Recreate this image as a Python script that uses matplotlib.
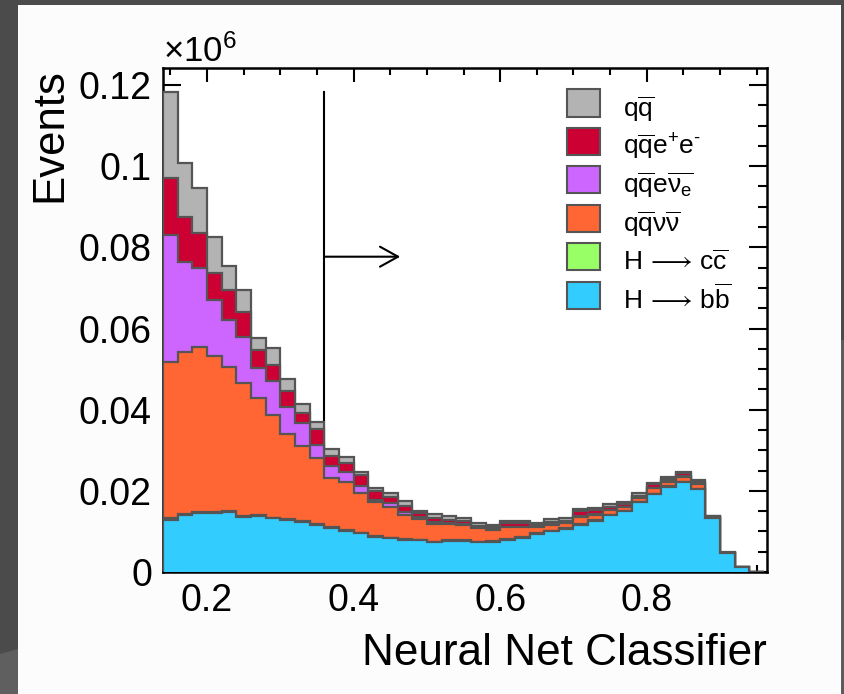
import numpy as np
import matplotlib.pyplot as plt
from matplotlib.patches import Rectangle, Polygon
from matplotlib.ticker import MultipleLocator, FuncFormatter

plt.rcParams['font.family'] = ['Liberation Sans', 'DejaVu Sans']
plt.rcParams['mathtext.fontset'] = 'custom'
plt.rcParams['mathtext.rm'] = 'Liberation Sans'
plt.rcParams['mathtext.it'] = 'Liberation Sans:italic'
plt.rcParams['mathtext.bf'] = 'Liberation Sans:bold'
plt.rcParams['mathtext.fallback'] = 'stixsans'

# 41 bins of width 0.02 between 0.14 and 0.96, events in units of 10^6
bin_edges = np.round(np.linspace(0.14, 0.96, 42), 2)

h_bb = [0.0128, 0.0140, 0.0145, 0.0145, 0.0147, 0.0136, 0.0138, 0.0132, 0.0128, 0.0124,
        0.0116, 0.0108, 0.0101, 0.0095, 0.0087, 0.0083, 0.0079, 0.0078, 0.0073, 0.0077,
        0.0077, 0.0073, 0.0075, 0.0079, 0.0085, 0.0094, 0.0100, 0.0107, 0.0116, 0.0126,
        0.0140, 0.0150, 0.0172, 0.0192, 0.0210, 0.0222, 0.0204, 0.0132, 0.0046, 0.0012,
        0.0001]
h_cc = [0.0004, 0.0003, 0.0003, 0.0003, 0.0003, 0.0003, 0.0002, 0.0002, 0.0002, 0.0002,
        0.0002, 0.0002, 0.0002, 0.0002, 0.0002, 0.0002, 0.0002, 0.0002, 0.0002, 0.0002,
        0.0002, 0.0002, 0.0002, 0.0002, 0.0002, 0.0002, 0.0002, 0.0002, 0.0002, 0.0002,
        0.0001, 0.0001, 0.0001, 0.0001, 0.0001, 0.0001, 0.0001, 0.0001, 0.0, 0.0,
        0.0]
h_qqvv = [0.0386, 0.0400, 0.0407, 0.0385, 0.0356, 0.0326, 0.0290, 0.0253, 0.0209, 0.0185,
          0.0162, 0.0121, 0.0120, 0.0098, 0.0083, 0.0076, 0.0059, 0.0051, 0.0043, 0.0039,
          0.0037, 0.0033, 0.0026, 0.0029, 0.0023, 0.0014, 0.0014, 0.0011, 0.0018, 0.0012,
          0.0012, 0.0008, 0.0010, 0.0013, 0.0012, 0.0012, 0.0013, 0.0002, 0.0001, 0.0,
          0.0]
h_qqev = [0.0312, 0.0220, 0.0193, 0.0137, 0.0115, 0.0115, 0.0072, 0.0084, 0.0067, 0.0055,
          0.0033, 0.0031, 0.0023, 0.0018, 0.0005, 0.0008, 0.0007, 0.0004, 0.0004, 0.0003,
          0.0003, 0.0002, 0.0002, 0.0002, 0.0002, 0.0002, 0.0002, 0.0002, 0.0002, 0.0002,
          0.0001, 0.0001, 0.0001, 0.0001, 0.0001, 0.0001, 0.0001, 0.0001, 0.0, 0.0,
          0.0]
h_qqee = [0.0142, 0.0113, 0.0087, 0.0066, 0.0074, 0.0060, 0.0045, 0.0039, 0.0041, 0.0027,
          0.0039, 0.0024, 0.0023, 0.0026, 0.0023, 0.0017, 0.0016, 0.0010, 0.0010, 0.0006,
          0.0007, 0.0004, 0.0005, 0.0008, 0.0008, 0.0004, 0.0006, 0.0004, 0.0012, 0.0011,
          0.0007, 0.0007, 0.0004, 0.0009, 0.0005, 0.0007, 0.0004, 0.0001, 0.0001, 0.0,
          0.0]
h_qq = [0.0212, 0.0131, 0.0111, 0.0089, 0.0060, 0.0055, 0.0030, 0.0043, 0.0028, 0.0021,
        0.0017, 0.0017, 0.0015, 0.0008, 0.0006, 0.0009, 0.0012, 0.0005, 0.0011, 0.0011,
        0.0006, 0.0007, 0.0006, 0.0006, 0.0006, 0.0005, 0.0006, 0.0006, 0.0005, 0.0005,
        0.0006, 0.0005, 0.0007, 0.0004, 0.0006, 0.0004, 0.0004, 0.0001, 0.0001, 0.0,
        0.0]

# bottom -> top of the stack
stack = [h_bb, h_cc, h_qqvv, h_qqev, h_qqee, h_qq]
colors = ['#33ccff', '#99ff66', '#ff6633', '#cc66ff', '#cc0033', '#b3b3b3']
labels = [r'$\mathrm{H}\,\longrightarrow\,\mathrm{b\overline{b}}$',
          r'$\mathrm{H}\,\longrightarrow\,\mathrm{c\overline{c}}$',
          r'$\mathrm{q\overline{q}\nu\overline{\nu}}$',
          r'$\mathrm{q\overline{q}e\overline{\nu_e}}$',
          '$\\mathrm{q\\overline{q}e^{+}e^{\u2010}}$',
          r'$\mathrm{q\overline{q}}$']

cut_x = 0.36
edge_col = '#555555'

fig = plt.figure(figsize=(8.44, 6.94), dpi=100)
fig.patch.set_facecolor('#4b4b4b')
fig.add_artist(Polygon([(0, 0), (18 / 844, 0), (18 / 844, 45 / 694), (0, 40 / 694)],
                       closed=True, transform=fig.transFigure,
                       facecolor='#5f5f5f', edgecolor='none', zorder=-11))
fig.add_artist(Rectangle((841 / 844, 0), 3 / 844, 354 / 694, transform=fig.transFigure,
                         facecolor='#5c5c5c', edgecolor='none', zorder=-11))
fig.add_artist(Rectangle((18 / 844, 0), 823 / 844, 689 / 694, transform=fig.transFigure,
                         facecolor='#fcfcfc', edgecolor='none', zorder=-10))

ax = fig.add_axes([163 / 844, 122 / 694, 604 / 844, 504 / 694])

# selection cut line and arrow
ax.plot([cut_x, cut_x], [0, 0.1182], color='black', lw=1.5, zorder=1)
ax.annotate('', xy=(0.4636, 0.0777), xytext=(cut_x, 0.0777),
            arrowprops=dict(arrowstyle='->,head_length=0.65,head_width=0.36',
                            mutation_scale=20, lw=1.5, color='black',
                            shrinkA=0, shrinkB=0), zorder=1)

cum = np.cumsum(np.array(stack), axis=0)
for i in range(len(stack) - 1, -1, -1):
    ax.stairs(cum[i], bin_edges, fill=True, facecolor=colors[i],
              edgecolor=edge_col, linewidth=1.6, zorder=2 + (len(stack) - i))

ax.set_xlim(0.14, 0.964)
ax.set_ylim(0, 0.1242)
ax.xaxis.set_major_locator(MultipleLocator(0.2))
ax.xaxis.set_minor_locator(MultipleLocator(0.05))
ax.yaxis.set_major_locator(MultipleLocator(0.02))
ax.yaxis.set_minor_locator(MultipleLocator(0.005))
fmt = FuncFormatter(lambda v, p: f'{v:g}')
ax.xaxis.set_major_formatter(fmt)
ax.yaxis.set_major_formatter(fmt)
ax.tick_params(which='both', direction='in', top=True, right=True, width=1.5,
               labelsize=27, colors='black')
ax.tick_params(axis='x', which='major', length=10, pad=8)
ax.tick_params(axis='x', which='minor', length=5)
ax.tick_params(axis='y', which='major', length=13, pad=8)
ax.tick_params(axis='y', which='minor', length=6.5)
for s in ax.spines.values():
    s.set_linewidth(1.8)
ax.set_zorder(1)

fig.text(163 / 844, 1 - 62 / 694, r'$\times10^{6}$', fontsize=25, ha='left', va='baseline')
fig.text(767 / 844, 1 - 665 / 694, 'Neural Net Classifier', fontsize=31.8,
         ha='right', va='baseline')
fig.text(50 / 844, 1 - 68 / 694, 'Events', fontsize=31.5, rotation=90,
         ha='center', va='top')

# legend, top to bottom: reverse of stack order
box_x0, box_x1, txt_x = 567, 600, 623
for k, i in enumerate(range(len(stack) - 1, -1, -1)):
    yc = 103 + 38.4 * k
    y_top, y_bot = yc - 13.5, yc + 13.5
    ax.add_patch(Rectangle(((box_x0 - 163) / 604, (572 - y_bot) / 504),
                           (box_x1 - box_x0) / 604, 27 / 504, transform=ax.transAxes,
                           facecolor=colors[i], edgecolor=edge_col, linewidth=1.5,
                           zorder=10, clip_on=False))
    ax.text((txt_x - 163) / 604, (572 - y_bot) / 504, labels[i], transform=ax.transAxes,
            fontsize=19, ha='left', va='baseline', zorder=10)

fig.savefig('out.png', dpi=100, facecolor=fig.get_facecolor())
